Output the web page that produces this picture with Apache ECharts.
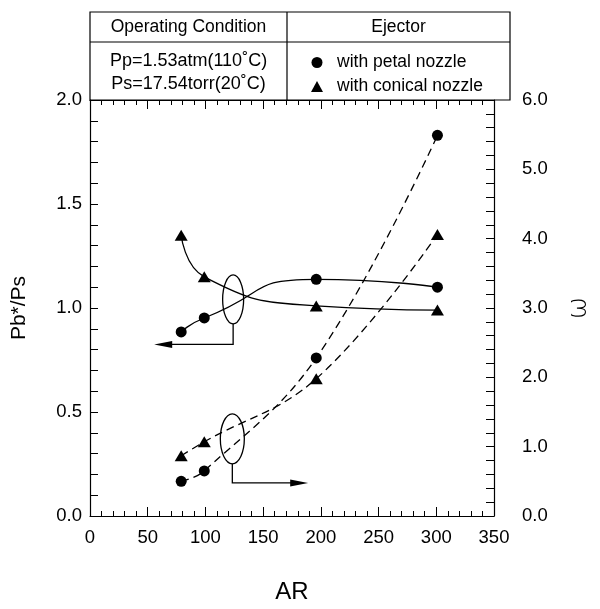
<!DOCTYPE html>
<html>
<head>
<meta charset="utf-8">
<script src="https://cdn.jsdelivr.net/npm/echarts@6/dist/echarts.min.js"></script>
<style>html,body{margin:0;padding:0;background:#fff;}#c{width:600px;height:609px;}</style>
</head>
<body>
<div id="c"></div>
<script>
// ---- data ----
const AR = [79, 99, 196, 301];
const pbPetal = [0.885, 0.952, 1.138, 1.10];
const pbConical = [1.35, 1.15, 1.01, 0.99];
const omegaPetal = [0.50, 0.65, 2.28, 5.49];
const omegaConical = [0.87, 1.07, 1.98, 4.06];
const xRange = [0, 350];
const xStep = 50;
const leftRange = [0, 2];
const leftStep = 0.5;
const rightRange = [0, 6];
const rightStep = 1;
const tableHeaders = ["Operating Condition", "Ejector"];
const conditions = ["Pp=1.53atm(110˚C)", "Ps=17.54torr(20˚C)"];
const ejectorNames = ["with petal nozzle", "with conical nozzle"];
const axisNames = { x: "AR", left: "Pb*/Ps", right: "ω" };

// ---- style ----
const FONT = "'Liberation Sans',Arial,sans-serif";
const K = '#000';
const chart = echarts.init(document.getElementById('c'), null, { renderer: 'canvas' });
const G = { left: 90, right: 90, top: 100, bottom: 89 };

function pairs(xs, ys) { return xs.map((x, i) => [x, ys[i]]); }
const tickCommon = (len) => ({ show: true, inside: true, length: len, lineStyle: { color: K, width: 1 } });

const solid = { color: K, width: 1.3, type: 'solid' };
const dashed = { color: K, width: 1.3, type: [8, 5] };
const LBL = 18.5;

chart.setOption({
  animation: false,
  backgroundColor: '#fff',
  grid: G,
  legend: {
    orient: 'vertical', left: 306, top: 47, itemWidth: 12, itemHeight: 11, itemGap: 3,
    selectedMode: false,
    data: [{ name: ejectorNames[0], icon: 'circle' }, { name: ejectorNames[1], icon: 'triangle' }],
    textStyle: { fontFamily: FONT, fontSize: 17.5, color: K, lineHeight: 21, padding: [0, 0, 0, 9] }
  },
  xAxis: [{
    type: 'value', min: xRange[0], max: xRange[1], interval: xStep, position: 'bottom',
    name: axisNames.x, nameLocation: 'middle', nameGap: 64,
    nameTextStyle: { fontFamily: FONT, fontSize: 24, color: K },
    axisLine: { show: true, lineStyle: { color: K, width: 1.2 } },
    axisTick: tickCommon(9), minorTick: { show: true, splitNumber: 5, length: 5, lineStyle: { color: K } },
    axisLabel: { fontFamily: FONT, fontSize: LBL, color: K, margin: 12 },
    splitLine: { show: false }
  }, {
    type: 'value', min: xRange[0], max: xRange[1], interval: xStep, position: 'top',
    axisLine: { show: true, onZero: false, lineStyle: { color: K, width: 1.2 } },
    axisTick: tickCommon(9), minorTick: { show: true, splitNumber: 5, length: 5, lineStyle: { color: K } },
    axisLabel: { show: false }, splitLine: { show: false }
  }],
  yAxis: [{
    type: 'value', min: leftRange[0], max: leftRange[1], interval: leftStep, position: 'left',
    name: axisNames.left, nameLocation: 'middle', nameGap: 60, nameRotate: 90,
    nameTextStyle: { fontFamily: FONT, fontSize: 21, color: K },
    axisLine: { show: true, onZero: false, lineStyle: { color: K, width: 1.2 } },
    axisTick: tickCommon(8), minorTick: { show: true, splitNumber: 5, length: 8, lineStyle: { color: K } },
    axisLabel: { fontFamily: FONT, fontSize: LBL, color: K, margin: 8, formatter: v => v.toFixed(1) },
    splitLine: { show: false }
  }, {
    type: 'value', min: rightRange[0], max: rightRange[1], interval: rightStep, position: 'right',
    name: axisNames.right, nameLocation: 'middle', nameGap: 71, nameRotate: 90,
    nameTextStyle: { fontFamily: "'DejaVu Sans',sans-serif", fontSize: 27, color: K, fontWeight: 'lighter' },
    axisLine: { show: true, onZero: false, lineStyle: { color: K, width: 1.2 } },
    axisTick: tickCommon(8), minorTick: { show: true, splitNumber: 5, length: 8, lineStyle: { color: K } },
    axisLabel: { fontFamily: FONT, fontSize: LBL, color: K, margin: 28, formatter: v => v.toFixed(1) },
    splitLine: { show: false }
  }],
  series: [
    { type: 'line', name: ejectorNames[0], data: pairs(AR, pbPetal), smooth: 0.6, symbol: 'circle', symbolSize: 11,
      lineStyle: solid, itemStyle: { color: K } },
    { type: 'line', name: ejectorNames[1], data: pairs(AR, pbConical), smooth: 0.5, symbol: 'triangle', symbolSize: [13, 11],
      lineStyle: solid, itemStyle: { color: K } },
    { type: 'line', name: ejectorNames[0], yAxisIndex: 1, data: pairs(AR, omegaPetal), smooth: 0.4, symbol: 'circle', symbolSize: 11,
      lineStyle: dashed, itemStyle: { color: K } },
    { type: 'line', name: ejectorNames[1], yAxisIndex: 1, data: pairs(AR, omegaConical), smooth: 0.4, symbol: 'triangle', symbolSize: [13, 11],
      lineStyle: dashed, itemStyle: { color: K } }
  ]
});

// ---- annotations: table + loops with arrows (placed via axis scales) ----
const W = chart.getWidth();
const gl = G.left, gr = W - G.right, gt = G.top;
const tableTop = 12, tableMid = 42, colDiv = 287;
const P = (x, y) => chart.convertToPixel({ xAxisIndex: 0, yAxisIndex: 0 }, [x, y]);
function loop(cAR, cPb, rx, ry, endPb, tipAR) {
  const c = P(cAR, cPb), b = P(cAR, endPb), t = P(tipAR, endPb);
  const dir = t[0] < b[0] ? 1 : -1;
  const s = { stroke: K, lineWidth: 1.3, fill: null };
  return [
    { type: 'ellipse', shape: { cx: c[0], cy: c[1], rx: rx, ry: ry }, style: s, z: 10 },
    { type: 'polyline', shape: { points: [[c[0], c[1] + ry], [b[0], b[1]], [t[0] + dir * 10, t[1]]] }, style: s, z: 10 },
    { type: 'polygon', shape: { points: [[t[0], t[1]], [t[0] + dir * 18, t[1] - 3.5], [t[0] + dir * 18, t[1] + 3.5]] }, style: { fill: K }, z: 10 }
  ];
}
const ls = { stroke: K, lineWidth: 1.2 };
const txt = (x, y, s, size) => ({ type: 'text', x: x, y: y, style: { text: s, font: size + 'px ' + FONT, fill: K, align: 'center', verticalAlign: 'middle' } });
chart.setOption({
  graphic: [
    { type: 'rect', shape: { x: gl, y: tableTop, width: gr - gl, height: gt - tableTop }, style: { stroke: K, lineWidth: 1.2, fill: null } },
    { type: 'line', shape: { x1: gl, y1: tableMid, x2: gr, y2: tableMid }, style: ls },
    { type: 'line', shape: { x1: colDiv, y1: tableTop, x2: colDiv, y2: gt }, style: ls },
    txt((gl + colDiv) / 2, 27, tableHeaders[0], 17.5),
    txt((colDiv + gr) / 2, 27, tableHeaders[1], 17.5),
    txt((gl + colDiv) / 2, 61, conditions[0], 18),
    txt((gl + colDiv) / 2, 84, conditions[1], 18),
    ...loop(124, 1.041, 10.5, 24.5, 0.825, 55.6),
    ...loop(123.3, 0.371, 12, 25, 0.159, 189)
  ]
});
</script>
</body>
</html>
